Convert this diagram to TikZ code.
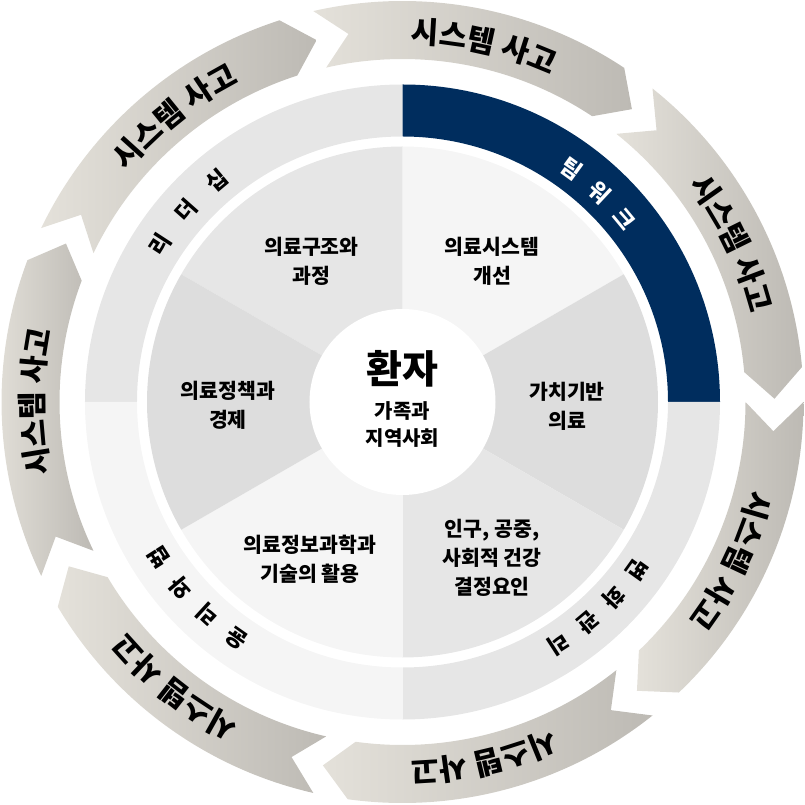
\documentclass[tikz,border=0pt]{standalone}
\usepackage{fontspec}
\setmainfont{Noto Sans CJK KR}
\usetikzlibrary{decorations.text}

\definecolor{teamnavy}{RGB}{0,45,94}
\definecolor{arrowlight}{RGB}{228,225,218}
\definecolor{arrowdark}{RGB}{189,186,180}
\definecolor{pieA}{RGB}{230,230,230}
\definecolor{pieB}{RGB}{245,245,245}
\definecolor{pieC}{RGB}{221,221,221}

\newcommand\sysfont{\bfseries\fontsize{30}{32}\selectfont}

\begin{document}
\begin{tikzpicture}[x=1pt,y=1pt,
		ringtxt/.style={font=\bfseries\fontsize{22}{22}\selectfont,inner sep=0pt},
		pietxt/.style={font=\bfseries\fontsize{20.5}{29}\selectfont,align=center,inner sep=0pt}]
		\useasboundingbox (-402.5,-403) rectangle (402.5,402);

		% Pfeile: Systemdenken
		\foreach \k in {0,...,6}{
			\pgfmathsetmacro{\ta}{\k*360/7}
			\pgfmathsetmacro{\hb}{\ta-360/7+5}
			\pgfmathsetmacro{\tm}{\ta-360/14}
			\shade[left color=arrowlight,right color=arrowdark]
				(\ta:401) arc[start angle=\ta,end angle=\hb,radius=401]
				-- (\hb-4.5:372) -- (\hb:343)
				arc[start angle=\hb,end angle=\ta,radius=343]
				-- (\ta-4.5:372) -- cycle;
			\path[decorate,decoration={text along path,text align=center,
				text={|\sysfont|시스템 사고}}]
				(\tm+22:359) arc[start angle=\tm+22,end angle=\tm-22,radius=359];
		}

		% Ring
		\fill[pieA] (90:265.5) -- (90:317.5) arc[start angle=90,end angle=180,radius=317.5]
			-- (180:265.5) arc[start angle=180,end angle=90,radius=265.5] -- cycle;
		\fill[teamnavy] (0:265.5) -- (0:317.5) arc[start angle=0,end angle=90,radius=317.5]
			-- (90:265.5) arc[start angle=90,end angle=0,radius=265.5] -- cycle;
		\fill[pieA] (-90:265.5) -- (-90:317.5) arc[start angle=-90,end angle=0,radius=317.5]
			-- (0:265.5) arc[start angle=0,end angle=-90,radius=265.5] -- cycle;
		\fill[pieB] (180:265.5) -- (180:317.5) arc[start angle=180,end angle=270,radius=317.5]
			-- (270:265.5) arc[start angle=270,end angle=180,radius=265.5] -- cycle;

		% Kuchen
		\foreach \a/\c in {90/pieA,30/pieB,-30/pieC,-90/pieA,-150/pieB,150/pieC}
			\fill[\c] (0,0) -- (\a:255.5) arc[start angle=\a,end angle=\a+60,radius=255.5] -- cycle;
		\fill[white] (0,0) circle (93);

		% Ringtexte
		\foreach \ch/\an [count=\i] in {리/147,더/138.5,십/130}
			\node[ringtxt,rotate=\an-90] (lead\i) at (\an:289) {\ch};
		\foreach \ch/\an [count=\i] in {팀/54,워/46.8,크/39.6}
			\node[ringtxt,text=white,rotate=\an-90] (team\i) at (\an:288) {\ch};
		\foreach \ch/\an [count=\i] in {변/-35.5,화/-42.7,관/-49.9,리/-57.1}
			\node[ringtxt,rotate=\an-90] (change\i) at (\an:288) {\ch};
		\foreach \ch/\an [count=\i] in {윤/-125,리/-132.5,와/-140,법/-147.5}
			\node[ringtxt,rotate=\an-90] (ethic\i) at (\an:289) {\ch};

		% Kuchentexte
		\node[pietxt] (struct) at (-91,141) {의료구조와\\과정};
		\node[pietxt] (improve) at (89.5,141) {의료시스템\\개선};
		\node[pietxt] (value) at (164.5,-4) {가치기반\\의료};
		\node[pietxt] (policy) at (-174.5,-3) {의료정책과\\경제};
		\node[pietxt] (inform) at (-92.5,-157) {의료정보과학과\\기술의 활용};
		\node[pietxt] (popul) at (89.5,-156) {인구, 공중,\\사회적 건강\\결정요인};

		% Mitte
		\node[font=\bfseries\fontsize{39}{39}\selectfont,inner sep=0pt] (patient) at (0,33) {환자};
		\node[pietxt,font=\bfseries\fontsize{20}{27}\selectfont] (family) at (0,-23) {가족과\\지역사회};
	\end{tikzpicture}
\end{document}
